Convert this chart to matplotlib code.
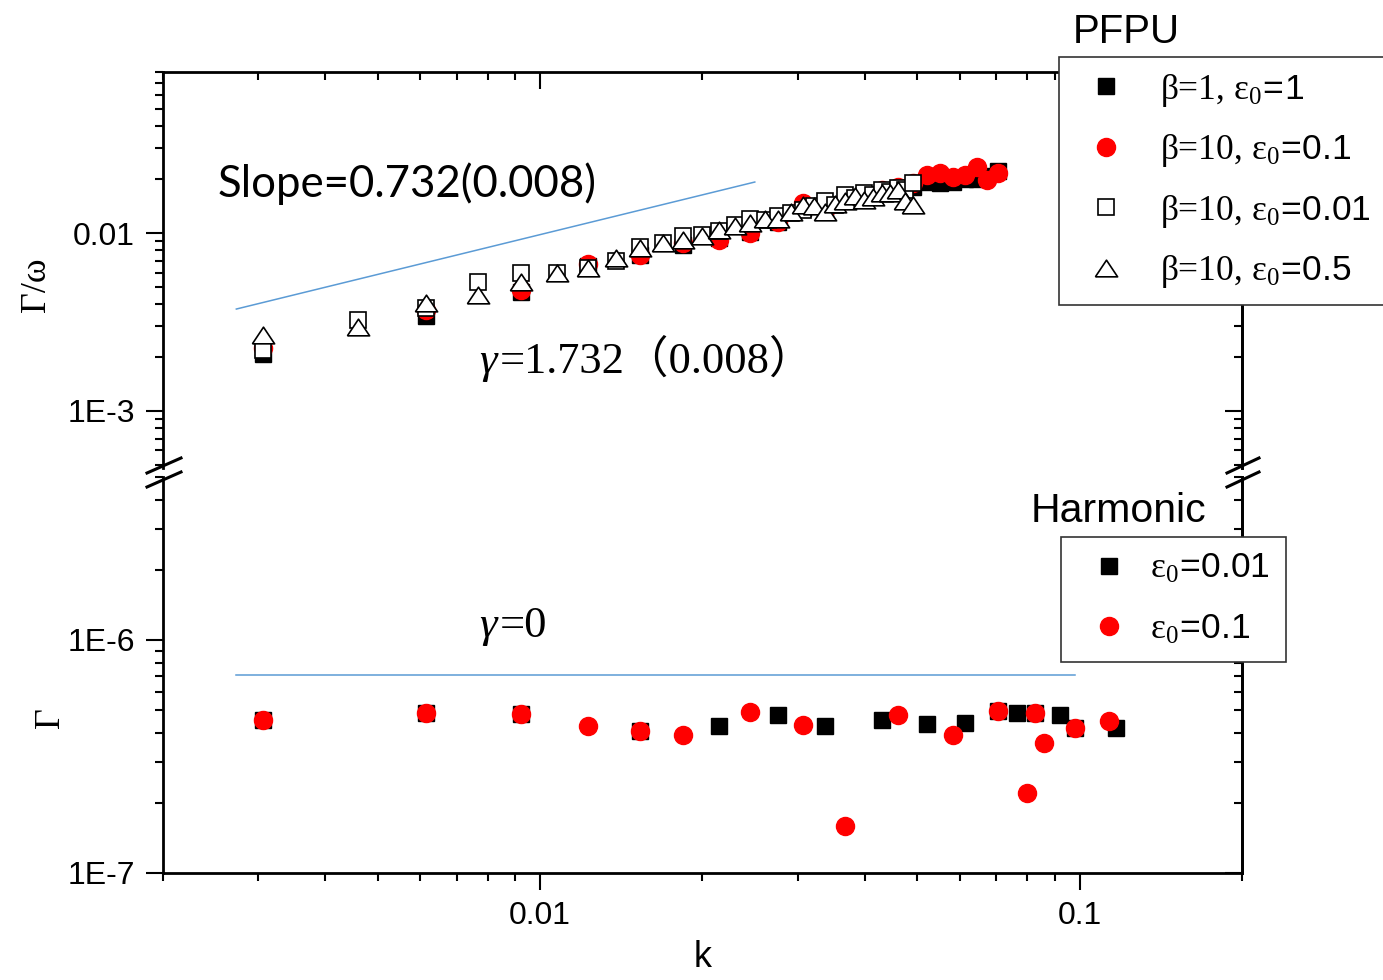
import math
import matplotlib
matplotlib.use('Agg')
import matplotlib.pyplot as plt
from matplotlib.font_manager import FontProperties
from matplotlib.lines import Line2D
from matplotlib.ticker import FuncFormatter, NullFormatter

plt.rcParams['font.family'] = 'Liberation Sans'
plt.rcParams['mathtext.fontset'] = 'custom'
plt.rcParams['mathtext.rm'] = 'Liberation Serif'
plt.rcParams['mathtext.it'] = 'Liberation Serif:italic'
plt.rcParams['mathtext.sf'] = 'Liberation Sans'
plt.rcParams['axes.linewidth'] = 2

# ---- PFPU (top panel): Gamma/omega vs k ----
k_even = [0.003068, 0.006136, 0.009204, 0.012272, 0.015340, 0.018408, 0.021476, 0.024544,
          0.027612, 0.030680, 0.033748, 0.036816, 0.039884, 0.042952, 0.046020, 0.049088,
          0.052156, 0.055224, 0.058292, 0.061360, 0.064428, 0.067496, 0.070564]
k_all = [0.003068, 0.004602, 0.006136, 0.007670, 0.009204, 0.010738, 0.012272, 0.013806,
         0.015340, 0.016874, 0.018408, 0.019942, 0.021476, 0.023010, 0.024544, 0.026078,
         0.027612, 0.029146, 0.030680, 0.032214, 0.033748, 0.035282, 0.036816, 0.038350,
         0.039884, 0.041418, 0.042952, 0.044486, 0.046020, 0.047554, 0.049088]

g_b1_e1 = [0.002089, 0.003418, 0.004661, 0.006526, 0.007521, 0.008562, 0.009374, 0.01013,
           0.01153, 0.01382, 0.01346, 0.01532, 0.01593, 0.01699, 0.01744, 0.01813,
           0.01930, 0.01910, 0.01930, 0.02010, 0.02010, 0.02090, 0.02230]
g_b10_e01 = [0.002259, 0.003693, 0.004783, 0.006696, 0.007521, 0.008786, 0.009135, 0.01000,
             0.01153, 0.01474, 0.01346, 0.01532, 0.01635, 0.01744, 0.01813, 0.01910,
             0.02118, 0.02173, 0.02064, 0.02118, 0.02349, 0.01985, 0.02173]
g_b10_e001 = [0.002203, 0.003245, 0.003791, 0.005304, 0.005959, 0.005959, 0.006358, 0.006961,
              0.008343, 0.008786, 0.009619, 0.009745, 0.01026, 0.01109, 0.01198, 0.01183,
              0.01246, 0.01296, 0.01346, 0.01418, 0.01512, 0.01437, 0.01635, 0.01573,
              0.01678, 0.01635, 0.01744, 0.01699, 0.01790, 0.01744, 0.01910]
g_b10_e05 = [0.002673, 0.002965, 0.004045, 0.004486, 0.005304, 0.005959, 0.006358, 0.007236,
             0.008234, 0.008786, 0.009135, 0.009619, 0.01040, 0.01095, 0.01138, 0.01198,
             0.01198, 0.01312, 0.01437, 0.01418, 0.01312, 0.01455, 0.01512, 0.01614,
             0.01532, 0.01593, 0.01678, 0.01678, 0.01744, 0.01512, 0.01437]

fit_top_k = [0.002735, 0.025]
fit_top_g = [0.00374, 0.01934]

# ---- Harmonic (bottom panel): Gamma vs k ----
k_h001 = [0.003068, 0.006136, 0.009204, 0.015340, 0.021476, 0.027612, 0.033748, 0.042952,
          0.052156, 0.061360, 0.070564, 0.076700, 0.082836, 0.092040, 0.098176, 0.116584]
g_h001 = [4.536e-7, 4.846e-7, 4.813e-7, 4.081e-7, 4.275e-7, 4.766e-7, 4.288e-7, 4.536e-7,
          4.361e-7, 4.391e-7, 4.973e-7, 4.846e-7, 4.875e-7, 4.766e-7, 4.204e-7, 4.179e-7]
k_h01 = [0.003068, 0.006136, 0.009204, 0.012272, 0.015340, 0.018408, 0.024544, 0.030680,
         0.036816, 0.046020, 0.058292, 0.070564, 0.079768, 0.082836, 0.085904, 0.098176, 0.113516]
g_h01 = [4.536e-7, 4.846e-7, 4.813e-7, 4.288e-7, 4.081e-7, 3.912e-7, 4.924e-7, 4.318e-7,
         1.591e-7, 4.766e-7, 3.912e-7, 4.973e-7, 2.198e-7, 4.875e-7, 3.602e-7, 4.204e-7, 4.491e-7]

fit_bot_k = [0.002735, 0.098]
fit_bot_g = [7.1e-7, 7.1e-7]

W, H = 1383, 980


def fx(x):
    return x / W


def fy(y):
    return 1 - y / H


fig = plt.figure(figsize=(13.83, 9.80), dpi=100)
ax_t = fig.add_axes([fx(163), fy(468), 1079 / W, 396 / H])
ax_b = fig.add_axes([fx(163), fy(873), 1079 / W, 396 / H])

tri = [(-1, -0.75), (1, -0.75), (0, 0.75), (-1, -0.75)]
blue = '#5B9BD5'

l1, = ax_t.plot(k_even, g_b1_e1, ls='none', marker='s', ms=11.5, color='black', mec='black')
l2, = ax_t.plot(k_even, g_b10_e01, ls='none', marker='o', ms=13, color='red', mec='red')
l3, = ax_t.plot(k_all, g_b10_e001, ls='none', marker='s', ms=11.5, mfc='white', mec='black', mew=1.2)
l4, = ax_t.plot(k_all, g_b10_e05, ls='none', marker=tri, ms=16, mfc='white', mec='black', mew=1.2)
ax_t.plot(fit_top_k, fit_top_g, color=blue, lw=1.1)

m1, = ax_b.plot(k_h001, g_h001, ls='none', marker='s', ms=12, color='black')
m2, = ax_b.plot(k_h01, g_h01, ls='none', marker='o', ms=13, color='red')
ax_b.plot(fit_bot_k, fit_bot_g, color=blue, lw=1.1)

for ax in (ax_t, ax_b):
    ax.set_xscale('log')
    ax.set_yscale('log')
    ax.set_xlim(0.002, 0.2)
    ax.tick_params(which='major', length=12, width=1.5, labelsize=23, pad=8)
    ax.tick_params(which='minor', length=6, width=1.5)
    ax.tick_params(axis='y', which='both', left=True, right=False, direction='out')
    ax.yaxis.set_minor_formatter(NullFormatter())
    ax.xaxis.set_minor_formatter(NullFormatter())

ax_t.set_ylim(4.783e-4, 0.0803)
ax_b.set_ylim(1e-7, 5.0e-6)


def origin_fmt(v, pos):
    if v >= 0.01:
        return '%g' % v
    return '1E-%d' % round(-math.log10(v))


ax_t.yaxis.set_major_formatter(FuncFormatter(origin_fmt))
ax_b.yaxis.set_major_formatter(FuncFormatter(origin_fmt))
ax_b.xaxis.set_major_formatter(FuncFormatter(origin_fmt))

ax_t.spines['bottom'].set_visible(False)
ax_b.spines['top'].set_visible(False)
ax_t.tick_params(axis='x', which='both', bottom=False, top=True, labelbottom=False,
                 labeltop=False, direction='in')
ax_b.tick_params(axis='x', which='both', top=False, bottom=True, direction='out')

for ax in (ax_t, ax_b):
    sec = ax.secondary_yaxis('right')
    sec.tick_params(which='major', length=12, width=1.5, direction='in', labelright=False)
    sec.tick_params(which='minor', length=6, width=1.5, direction='in', labelright=False)
    sec.yaxis.set_minor_formatter(NullFormatter())
    sec.spines['right'].set_linewidth(2)

# axis break marks
for x0, x1 in ((147, 181), (1227, 1259)):
    for y0 in (473, 487):
        fig.add_artist(Line2D([fx(x0), fx(x1)], [fy(y0), fy(y0 - 15)], color='black', lw=2.2))

# labels
serif = 'Liberation Serif'
fig.text(fx(37), fy(285), 'Γ/ω', rotation=90, family=serif, size=26, ha='center', va='center')
fig.text(fx(50), fy(718), 'Γ', rotation=90, family=serif, size=26, ha='center', va='center')
ax_b.set_xlabel('k', fontsize=26)
ax_b.xaxis.set_label_coords(0.5005, (873 - 940) / 396)

fig.text(fx(218), fy(197), 'Slope=0.732(0.008)', family='Lato', size=31.5, ha='left', va='baseline')
fig.text(fx(479), fy(373), 'γ', family=serif, style='italic', size=32, ha='left', va='baseline')
fig.text(fx(500), fy(373), '=1.732（0.008）', family=[serif, 'Noto Sans CJK SC'], size=32,
         ha='left', va='baseline')
fig.text(fx(479), fy(637), 'γ', family=serif, style='italic', size=32, ha='left', va='baseline')
fig.text(fx(500), fy(637), '=0', family=serif, size=32, ha='left', va='baseline')

fig.text(fx(1073), fy(43), 'PFPU', size=29, ha='left', va='baseline')
fig.text(fx(1031), fy(522), 'Harmonic', size=29.5, ha='left', va='baseline')

leg_font = FontProperties(family=serif, size=25.5)
leg1 = ax_t.legend([l1, l2, l3, l4],
                   ['β=1, ε$_0\\mathsf{\\!=\\!1}$', 'β=10, ε$_0\\mathsf{\\!=\\!0.1}$',
                    'β=10, ε$_0\\mathsf{\\!=\\!0.01}$', 'β=10, ε$_0\\mathsf{\\!=\\!0.5}$'],
                   loc='upper left', bbox_to_anchor=(fx(1059), fy(57)), bbox_transform=fig.transFigure,
                   prop=leg_font, fancybox=False, edgecolor='#333333', framealpha=1,
                   borderpad=0.42, labelspacing=0.66, handlelength=1.81, handletextpad=0.62,
                   borderaxespad=0, numpoints=1)
leg1.get_frame().set_linewidth(1.2)

leg2 = ax_b.legend([m1, m2], ['ε$_0\\mathsf{\\!=\\!0.01}$', 'ε$_0\\mathsf{\\!=\\!0.1}$'],
                   loc='upper left', bbox_to_anchor=(fx(1061), fy(537)), bbox_transform=fig.transFigure,
                   prop=leg_font, fancybox=False, edgecolor='#333333', framealpha=1,
                   borderpad=0.45, labelspacing=0.77, handlelength=1.814, handletextpad=0.251,
                   borderaxespad=0, numpoints=1)
leg2.get_frame().set_linewidth(1.2)

fig.savefig('out.png', dpi=100)
